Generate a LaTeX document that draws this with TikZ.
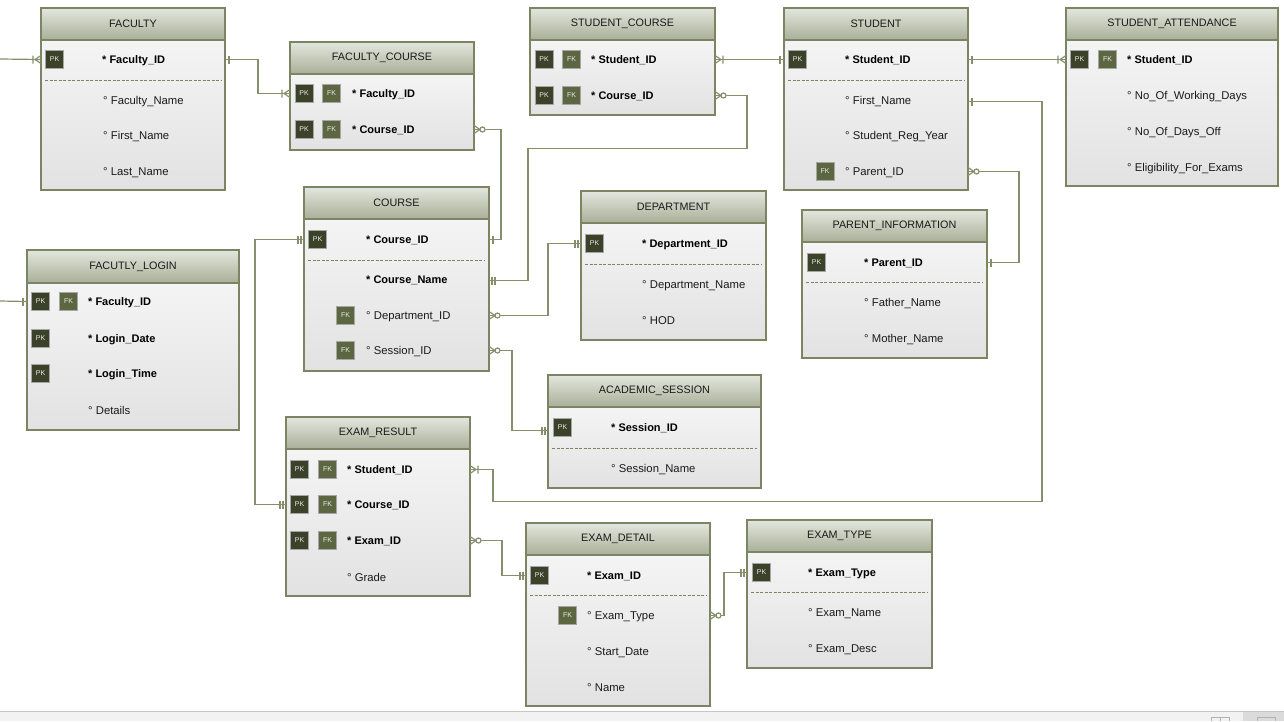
\documentclass[tikz,border=0pt]{standalone}
\usepackage{fontspec}
\setmainfont{Liberation Sans}
\usetikzlibrary{calc}
\definecolor{hdrtop}{HTML}{E4E6DD}
\definecolor{hdrbot}{HTML}{A9AF98}
\definecolor{bodytop}{HTML}{F4F4F4}
\definecolor{bodybot}{HTML}{E2E2E2}
\definecolor{tblline}{HTML}{7D8463}
\definecolor{pkfill}{HTML}{3C4229}
\definecolor{fkfill}{HTML}{5C6641}
\definecolor{connc}{HTML}{868F6C}
\definecolor{txt}{HTML}{1A1A1A}
\tikzset{
 titletext/.style={font=\fontsize{10.8}{13}\selectfont, text=txt, inner sep=0},
 keytext/.style={font=\fontsize{11}{13}\selectfont\bfseries, text=black, anchor=west, inner sep=0, yshift=-1.5pt},
 attrtext/.style={font=\fontsize{11.3}{13}\selectfont, text=txt, anchor=west, inner sep=0, yshift=-1.5pt},
 badge/.style={minimum width=18, minimum height=18, inner sep=0, draw=gray!70, line width=0.8pt, font=\fontsize{7}{8}\selectfont, text=white!92!black},
 pk/.style={badge, fill=pkfill},
 fk/.style={badge, fill=fkfill},
 dashrow/.style={draw=tblline, line width=1pt, dash pattern=on 3pt off 1.5pt},
 conn/.style={draw=connc, line width=1.2pt},
}
\newcommand\ertable[7]{%
 \shade[top color=bodytop,bottom color=bodybot] (#2,#6) rectangle (#4,#5);
 \shade[top color=hdrtop,bottom color=hdrbot] (#2,#3) rectangle (#4,#6);
 \draw[tblline, line width=1.5pt] (#2,#6) -- (#4,#6);
 \node[draw=tblline, line width=1.5pt, inner sep=0, outer sep=0, anchor=north west, minimum width={#4-#2}, minimum height={#5-#3}] (#1) at (#2,#3) {};
 \node[titletext] (#1-t) at ({(#2+#4)/2},{(#3+#6)/2}) {#7};
}
\newcommand\erm[3]{\begin{scope}[shift={(#1)},xscale=#2]\csname erm#3\endcsname\end{scope}}
\newcommand\ermbar{\draw[conn] (4,-4)--(4,4);}
\newcommand\ermdbar{\draw[conn] (3,-4)--(3,4) (6,-4)--(6,4);}
\newcommand\ermcrowbar{\draw[conn] (0,-4)--(6,0)--(0,4) (8,-4)--(8,4);}
\newcommand\ermcrowcirc{\draw[conn] (0,-4)--(6,0)--(0,4); \draw[conn,fill=white] (8.5,0) circle (2.5);}
\begin{document}
\begin{tikzpicture}[x=1pt,y=-1pt]
\useasboundingbox (0,0) rectangle (1284,721);
\fill[white] (0,0) rectangle (1284,721);
% window strip
\fill[gray!10] (0,711) rectangle (1284,721);
\draw[gray!45] (0,711.5) -- (1284,711.5);
\fill[gray!28] (1243,712) rectangle (1284,721);
\draw[gray!60] (1211,721) -- (1211,717) -- (1229,717) -- (1229,721) (1220,717) -- (1220,721);
\draw[gray!60] (1257,721) -- (1257,717) -- (1275,717) -- (1275,721);

% FACULTY
\ertable{fac}{41}{8}{225}{190}{40}{FACULTY}
\node[pk] (fac-pk) at (54.5,59.5) {PK};
\node[keytext] (fac-id) at (102,59) {* Faculty\_ID};
\draw[dashrow] (45,80) -- (221,80);
\node[attrtext] (fac-a1) at (103,100) {° Faculty\_Name};
\node[attrtext] (fac-a2) at (103,135) {° First\_Name};
\node[attrtext] (fac-a3) at (103,171) {° Last\_Name};

% FACULTY_COURSE
\ertable{fc}{290}{42}{474}{150}{74}{FACULTY\_COURSE}
\node[pk] (fc-pk1) at (304,93.5) {PK};
\node[fk] (fc-fk1) at (331.5,93.5) {FK};
\node[keytext] (fc-fid) at (352,93) {* Faculty\_ID};
\node[pk] (fc-pk2) at (304,129.5) {PK};
\node[fk] (fc-fk2) at (331.5,129.5) {FK};
\node[keytext] (fc-cid) at (352,129) {* Course\_ID};

% STUDENT_COURSE
\ertable{sc}{530}{8}{715}{115}{40}{STUDENT\_COURSE}
\node[pk] (sc-pk1) at (544,59.5) {PK};
\node[fk] (sc-fk1) at (571.5,59.5) {FK};
\node[keytext] (sc-sid) at (591,59) {* Student\_ID};
\node[pk] (sc-pk2) at (544,95.5) {PK};
\node[fk] (sc-fk2) at (571.5,95.5) {FK};
\node[keytext] (sc-cid) at (591,95) {* Course\_ID};

% STUDENT
\ertable{st}{784}{8}{968}{190}{40}{STUDENT}
\node[pk] (st-pk) at (797.5,59.5) {PK};
\node[keytext] (st-id) at (845,59) {* Student\_ID};
\draw[dashrow] (788,80) -- (964,80);
\node[attrtext] (st-fn) at (845,100) {° First\_Name};
\node[attrtext] (st-ry) at (845,135) {° Student\_Reg\_Year};
\node[fk] (st-fk) at (825,171.5) {FK};
\node[attrtext] (st-pid) at (845,171) {° Parent\_ID};

% STUDENT_ATTENDANCE
\ertable{sa}{1066}{8}{1278}{186}{40}{STUDENT\_ATTENDANCE}
\node[pk] (sa-pk) at (1079.5,59.5) {PK};
\node[fk] (sa-fk) at (1107.5,59.5) {FK};
\node[keytext] (sa-id) at (1127,59) {* Student\_ID};
\node[attrtext] (sa-a1) at (1127,95) {° No\_Of\_Working\_Days};
\node[attrtext] (sa-a2) at (1127,131) {° No\_Of\_Days\_Off};
\node[attrtext] (sa-a3) at (1127,167) {° Eligibility\_For\_Exams};

% COURSE
\ertable{co}{304}{187}{489}{371}{219}{COURSE}
\node[pk] (co-pk) at (317.5,239.5) {PK};
\node[keytext] (co-id) at (366,239) {* Course\_ID};
\draw[dashrow] (308,260) -- (485,260);
\node[keytext] (co-name) at (366,279) {* Course\_Name};
\node[fk] (co-fk1) at (345.5,315.5) {FK};
\node[attrtext] (co-did) at (366,315) {° Department\_ID};
\node[fk] (co-fk2) at (345.5,350.5) {FK};
\node[attrtext] (co-sid) at (366,350) {° Session\_ID};

% FACUTLY_LOGIN
\ertable{fl}{27}{250}{239}{430}{283}{FACUTLY\_LOGIN}
\node[pk] (fl-pk1) at (40.5,301.5) {PK};
\node[fk] (fl-fk1) at (68.5,301.5) {FK};
\node[keytext] (fl-id) at (88,301) {* Faculty\_ID};
\node[pk] (fl-pk2) at (40.5,338.5) {PK};
\node[keytext] (fl-ld) at (88,338) {* Login\_Date};
\node[pk] (fl-pk3) at (40.5,373.5) {PK};
\node[keytext] (fl-lt) at (88,373) {* Login\_Time};
\node[attrtext] (fl-de) at (88,409) {° Details};

% DEPARTMENT
\ertable{de}{581}{191}{766}{340}{223}{DEPARTMENT}
\node[pk] (de-pk) at (594.5,243.5) {PK};
\node[keytext] (de-id) at (642,243) {* Department\_ID};
\draw[dashrow] (585,264) -- (762,264);
\node[attrtext] (de-a1) at (642,284) {° Department\_Name};
\node[attrtext] (de-a2) at (642,319) {° HOD};

% PARENT_INFORMATION
\ertable{pi}{802}{210}{987}{358}{242}{PARENT\_INFORMATION}
\node[pk] (pi-pk) at (816.5,262.5) {PK};
\node[keytext] (pi-id) at (864,262) {* Parent\_ID};
\draw[dashrow] (806,282) -- (983,282);
\node[attrtext] (pi-a1) at (864,302) {° Father\_Name};
\node[attrtext] (pi-a2) at (864,338) {° Mother\_Name};

% ACADEMIC_SESSION
\ertable{as}{548}{375}{761}{488}{407}{ACADEMIC\_SESSION}
\node[pk] (as-pk) at (562.5,427.5) {PK};
\node[keytext] (as-id) at (611,427) {* Session\_ID};
\draw[dashrow] (552,448) -- (757,448);
\node[attrtext] (as-a1) at (611,468) {° Session\_Name};

% EXAM_RESULT
\ertable{er}{286}{417}{470}{596}{449}{EXAM\_RESULT}
\node[pk] (er-pk1) at (299.5,469.5) {PK};
\node[fk] (er-fk1) at (327.5,469.5) {FK};
\node[keytext] (er-sid) at (347,469) {* Student\_ID};
\node[pk] (er-pk2) at (299.5,504.5) {PK};
\node[fk] (er-fk2) at (327.5,504.5) {FK};
\node[keytext] (er-cid) at (347,504) {* Course\_ID};
\node[pk] (er-pk3) at (299.5,540.5) {PK};
\node[fk] (er-fk3) at (327.5,540.5) {FK};
\node[keytext] (er-eid) at (347,540) {* Exam\_ID};
\node[attrtext] (er-gr) at (347,576) {° Grade};

% EXAM_DETAIL
\ertable{ed}{526}{523}{710}{706}{555}{EXAM\_DETAIL}
\node[pk] (ed-pk) at (539.5,575.5) {PK};
\node[keytext] (ed-id) at (587,575) {* Exam\_ID};
\draw[dashrow] (530,595) -- (706,595);
\node[fk] (ed-fk) at (567.5,615.5) {FK};
\node[attrtext] (ed-et) at (587,615) {° Exam\_Type};
\node[attrtext] (ed-sd) at (587,651) {° Start\_Date};
\node[attrtext] (ed-nm) at (587,686) {° Name};

% EXAM_TYPE
\ertable{et}{747}{520}{932}{668}{552}{EXAM\_TYPE}
\node[pk] (et-pk) at (761.5,572.5) {PK};
\node[keytext] (et-id) at (808,572) {* Exam\_Type};
\draw[dashrow] (751,592) -- (928,592);
\node[attrtext] (et-a1) at (808,612) {° Exam\_Name};
\node[attrtext] (et-a2) at (808,648) {° Exam\_Desc};

% free ends at the left border
\coordinate (leftA) at (0,59);
\coordinate (leftB) at (0,301);

% connectors
\draw[conn] (leftA) -- (fac.west |- fac-pk);
\erm{fac.west |- fac-pk}{-1}{crowbar}

\draw[conn] (fac.east |- fac-pk) -- ++(33,0) |- (fc.west |- fc-pk1);
\erm{fac.east |- fac-pk}{1}{bar}
\erm{fc.west |- fc-pk1}{-1}{crowbar}

\draw[conn] (fc.east |- fc-pk2) -- ++(27,0) |- (co.east |- co-pk);
\erm{fc.east |- fc-pk2}{1}{crowcirc}
\erm{co.east |- co-pk}{1}{bar}

\draw[conn] (sc.east |- sc-pk2) -| ($(sc.east |- sc-pk2)+(32,53)$) -| ($(co.east |- co-name)+(39,0)$) -- (co.east |- co-name);
\erm{sc.east |- sc-pk2}{1}{crowcirc}
\erm{co.east |- co-name}{1}{dbar}

\draw[conn] (sc.east |- sc-pk1) -- (st.west |- st-pk);
\erm{sc.east |- sc-pk1}{1}{crowbar}
\erm{st.west |- st-pk}{-1}{bar}

\draw[conn] (st.east |- st-pk) -- (sa.west |- sa-pk);
\erm{st.east |- st-pk}{1}{bar}
\erm{sa.west |- sa-pk}{-1}{crowbar}

\draw[conn] (st.east |- st-fn) -- ++(74,0) |- ($(er.east |- er-pk1)+(23,32)$) -- ($(er.east |- er-pk1)+(23,0)$) -- (er.east |- er-pk1);
\erm{st.east |- st-fn}{1}{bar}
\erm{er.east |- er-pk1}{1}{crowbar}

\draw[conn] (st.east |- st-fk) -- ++(51,0) |- (pi.east |- pi-pk);
\erm{st.east |- st-fk}{1}{crowcirc}
\erm{pi.east |- pi-pk}{1}{bar}

\draw[conn] (co.east |- co-fk1) -| ($(de.west |- de-pk)+(-33,0)$) -- (de.west |- de-pk);
\erm{co.east |- co-fk1}{1}{crowcirc}
\erm{de.west |- de-pk}{-1}{dbar}

\draw[conn] (co.east |- co-fk2) -| ($(as.west |- as-pk)+(-36,3)$) -- ($(as.west |- as-pk)+(0,3)$);
\erm{co.east |- co-fk2}{1}{crowcirc}
\erm{$(as.west |- as-pk)+(0,3)$}{-1}{dbar}

\draw[conn] (er.west |- er-pk2) -- ++(-31,0) |- (co.west |- co-pk);
\erm{er.west |- er-pk2}{-1}{dbar}
\erm{co.west |- co-pk}{-1}{dbar}

\draw[conn] (er.east |- er-pk3) -- ++(32,0) |- (ed.west |- ed-pk);
\erm{er.east |- er-pk3}{1}{crowcirc}
\erm{ed.west |- ed-pk}{-1}{dbar}

\draw[conn] (ed.east |- ed-fk) -- ++(14,0) |- (et.west |- et-pk);
\erm{ed.east |- ed-fk}{1}{crowcirc}
\erm{et.west |- et-pk}{-1}{dbar}

\draw[conn] (leftB) -- (fl.west |- fl-pk1);
\erm{fl.west |- fl-pk1}{-1}{bar}
\end{tikzpicture}
\end{document}
